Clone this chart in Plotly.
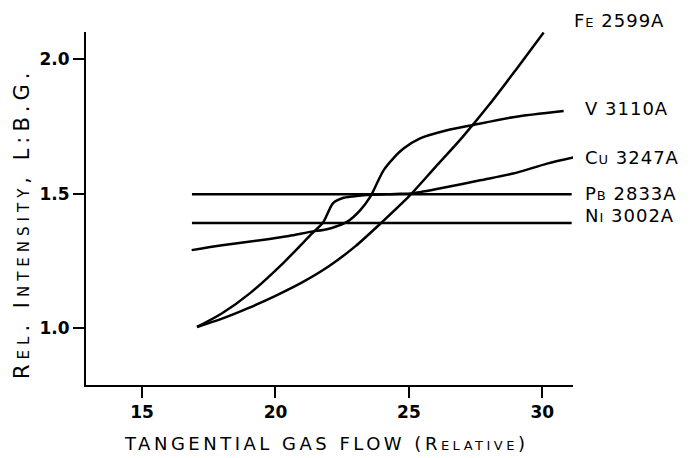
import plotly.graph_objects as go

# ---- data ----
fe_x = [17.06, 18.0, 19.0, 20.0, 21.0, 22.0, 23.0, 24.0, 25.0, 26.0, 27.0, 28.0, 29.0, 30.05]
fe_y = [1.004, 1.035, 1.075, 1.12, 1.17, 1.23, 1.305, 1.395, 1.49, 1.60, 1.71, 1.83, 1.96, 2.10]

v_x = [16.86, 18.0, 19.43, 20.5, 21.3, 21.93, 22.3, 22.68, 23.18, 23.55, 23.8, 24.05, 24.4, 24.8, 25.4, 26.43, 27.36, 28.9, 30.8]
v_y = [1.29, 1.308, 1.327, 1.343, 1.358, 1.368, 1.379, 1.395, 1.439, 1.488, 1.538, 1.587, 1.63, 1.668, 1.705, 1.736, 1.755, 1.785, 1.808]

cu_x = [17.06, 18.0, 19.05, 20.29, 21.38, 21.79, 22.16, 22.5, 22.9, 23.6, 24.5, 25.16, 26.43, 27.67, 28.9, 30.18, 31.17]
cu_y = [1.004, 1.055, 1.13, 1.242, 1.353, 1.394, 1.465, 1.483, 1.49, 1.496, 1.499, 1.502, 1.525, 1.55, 1.575, 1.612, 1.635]

pb_x = [16.87, 31.1]
pb_y = [1.498, 1.498]

ni_x = [16.87, 31.1]
ni_y = [1.391, 1.391]

series_names = ["Fe 2599A", "V 3110A", "Cu 3247A", "Pb 2833A", "Ni 3002A"]
label_y = [2.145, 1.818, 1.636, 1.502, 1.42]   # label centres, in data units

x_ticks = [15, 20, 25, 30]
y_ticks = [1.0, 1.5, 2.0]
y_ticklabels = ["1.0", "1.5", "2.0"]

X_RANGE = [12.9, 31.15]
Y_RANGE = [0.788, 2.102]

FONT = "DejaVu Sans"


def spaced(txt, px):
    return f"<span style='letter-spacing:{px}px'>{txt}</span>"


fig = go.Figure()
for xs, ys, nm in [(fe_x, fe_y, series_names[0]), (v_x, v_y, series_names[1]),
                   (cu_x, cu_y, series_names[2]), (pb_x, pb_y, series_names[3]),
                   (ni_x, ni_y, series_names[4])]:
    fig.add_trace(go.Scatter(x=xs, y=ys, mode="lines", name=nm,
                             line=dict(color="black", width=2.5, shape="spline", smoothing=0.8),
                             hoverinfo="skip", showlegend=False))

label_shift = [-1, 10, 10, 10, 10]
for nm, ly, sh in zip(series_names, label_y, label_shift):
    fig.add_annotation(x=1, y=(ly - Y_RANGE[0]) / (Y_RANGE[1] - Y_RANGE[0]),
                       xref="paper", yref="paper", xshift=sh, text=spaced(nm, 1),
                       showarrow=False, xanchor="left", yanchor="middle",
                       font=dict(family=FONT, size=18, color="black", variant="small-caps"))

fig.add_annotation(x=0, y=0.456, xref="paper", yref="paper", xshift=-64,
                   text=spaced("Rel. Intensity, L:B.G.", 5), textangle=-90, showarrow=False,
                   xanchor="center", yanchor="middle",
                   font=dict(family=FONT, size=21, color="black", variant="small-caps"))

fig.add_annotation(x=0.493, y=0, xref="paper", yref="paper", yshift=-58,
                   text=spaced("TANGENTIAL GAS FLOW (Relative)", 3.5), showarrow=False,
                   xanchor="center", yanchor="middle",
                   font=dict(family=FONT, size=18, color="black", variant="small-caps"))

fig.update_xaxes(range=X_RANGE, tickvals=x_ticks, ticks="outside", ticklen=11,
                 tickwidth=2, tickcolor="black", showline=True, linecolor="black",
                 linewidth=2, showgrid=False, zeroline=False,
                 tickfont=dict(family=FONT, size=17, color="black", weight="bold"))
fig.update_yaxes(range=Y_RANGE, tickvals=y_ticks, ticktext=y_ticklabels,
                 ticks="outside", ticklen=11, tickwidth=2, tickcolor="black",
                 showline=True, linecolor="black", linewidth=2, showgrid=False,
                 zeroline=False,
                 tickfont=dict(family=FONT, size=17, color="black", weight="bold"))

# page body has an 8px margin, so the figure is drawn 8px smaller and offset
fig.update_layout(width=683, height=450, margin=dict(l=78, r=118, t=24, b=73),
                  paper_bgcolor="white", plot_bgcolor="white")

fig.write_html("out.html")
